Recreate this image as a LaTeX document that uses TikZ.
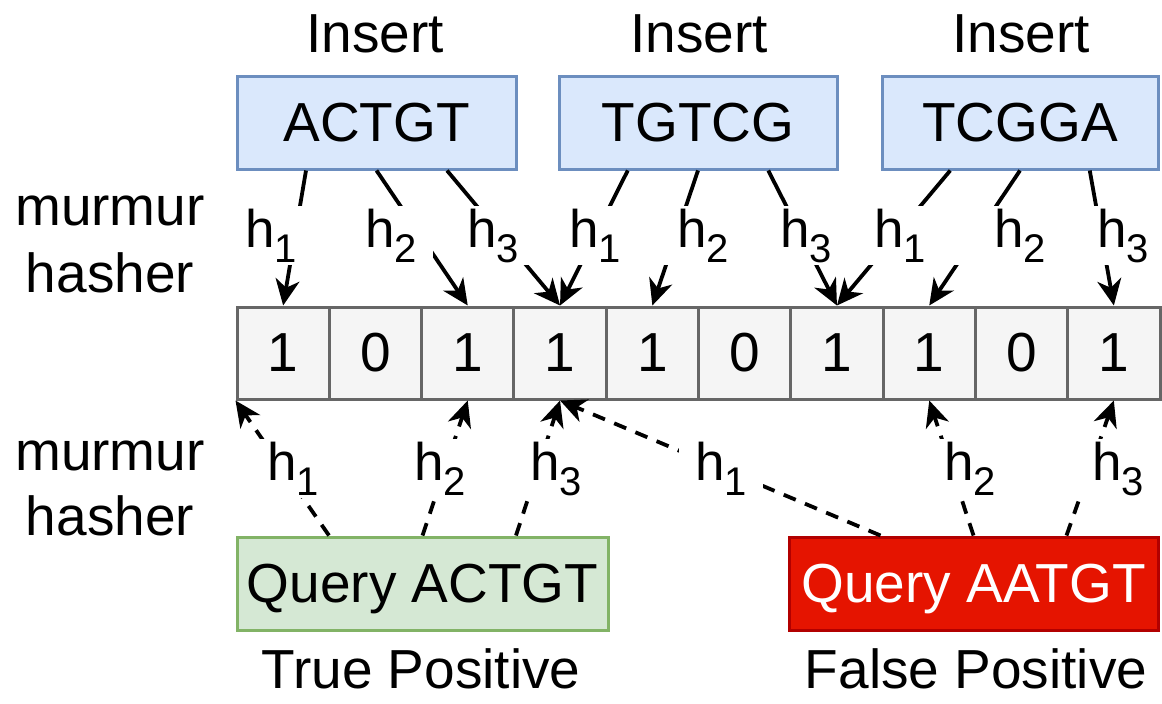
\documentclass[tikz,border=0pt]{standalone}
\usepackage{fontspec}
\setmainfont{Liberation Sans}
\usetikzlibrary{arrows.meta,calc}

\definecolor{insfill}{HTML}{DAE8FC}
\definecolor{insdraw}{HTML}{6C8EBF}
\definecolor{bitfill}{HTML}{F5F5F5}
\definecolor{bitdraw}{HTML}{666666}
\definecolor{tpfill}{HTML}{D5E8D4}
\definecolor{tpdraw}{HTML}{82B366}
\definecolor{fpfill}{HTML}{E51400}
\definecolor{fpdraw}{HTML}{B20000}

% hash function label h_i
\newcommand{\hsub}[1]{h\raisebox{-15pt}{\fontsize{40}{40}\selectfont #1}}

\begin{document}
\begin{tikzpicture}[x=1pt,y=-1pt,
  every node/.style={font=\fontsize{55}{66}\selectfont, inner sep=0pt},
  plain/.style={anchor=base},
  insbox/.style={draw=insdraw, fill=insfill, line width=3pt, minimum height=93pt},
  bitcell/.style={draw=bitdraw, fill=bitfill, line width=3pt, minimum width=92.3pt, minimum height=92pt},
  tpbox/.style={draw=tpdraw, fill=tpfill, line width=3pt, minimum width=371pt, minimum height=93pt, text depth=0pt},
  fpbox/.style={draw=fpdraw, fill=fpfill, text=white, line width=3pt, minimum width=369pt, minimum height=93pt, text depth=0pt},
  hashlabel/.style={fill=white, inner xsep=16pt, inner ysep=3pt, anchor=base west, font=\fontsize{53}{60}\selectfont},
  hasharrow/.style={line width=3.8pt, -{Stealth[length=26pt,width=24pt,inset=8pt]}},
  queryarrow/.style={hasharrow, dash pattern=on 13pt off 10pt}
]
\useasboundingbox (0,0) rectangle (1162,704);
\fill[white] (0,0) rectangle (1162,704);

% inserted k-mers
\node[plain] (t1) at (375,52) {Insert};
\node[plain] (t2) at (699,52) {Insert};
\node[plain] (t3) at (1021,52) {Insert};
\node[insbox, minimum width=279pt] (ins1) at (376.5,122.5) {ACTGT};
\node[insbox, minimum width=278pt] (ins2) at (698,122.5) {TGTCG};
\node[insbox, minimum width=276pt] (ins3) at (1020,122.5) {TCGGA};

% side captions
\node[plain] (m1) at (110,225) {murmur};
\node[plain] (m2) at (110,292) {hasher};
\node[plain] (m3) at (110,470) {murmur};
\node[plain] (m4) at (110,535) {hasher};

% bit array
\foreach \i/\v in {1/1,2/0,3/1,4/1,5/1,6/0,7/1,8/1,9/0,10/1}
  \node[bitcell] (c\i) at ({237+92.3*(\i-0.5)},353) {\v};

% queries
\node[tpbox] (q1) at (422.5,583.5) {Query ACTGT};
\node[fpbox] (q2) at (973.5,583.5) {Query AATGT};
\node[plain] (r1) at (421,688) {True Positive};
\node[plain] (r2) at (976,688) {False Positive};

% connector start points on box edges
\foreach \b in {ins1,ins2,ins3}{
  \coordinate (\b-a) at ($(\b.south west)!0.25!(\b.south east)$);
  \coordinate (\b-b) at ($(\b.south west)!0.5!(\b.south east)$);
  \coordinate (\b-c) at ($(\b.south west)!0.75!(\b.south east)$);
}
\foreach \b in {q1,q2}{
  \coordinate (\b-a) at ($(\b.north west)!0.25!(\b.north east)$);
  \coordinate (\b-b) at ($(\b.north west)!0.5!(\b.north east)$);
  \coordinate (\b-c) at ($(\b.north west)!0.75!(\b.north east)$);
}

% insert hashing
\draw[hasharrow] (ins1-a) -- (c1.north);
\draw[hasharrow] (ins1-b) -- (c3.north);
\draw[hasharrow] (ins1-c) -- (c4.north);
\draw[hasharrow] (ins2-a) -- (c4.north);
\draw[hasharrow] (ins2-b) -- (c5.north);
\draw[hasharrow] (ins2-c) -- (c7.north);
\draw[hasharrow] (ins3-a) -- (c7.north);
\draw[hasharrow] (ins3-b) -- (c8.north);
\draw[hasharrow] (ins3-c) -- (c10.north);

% query hashing
\draw[queryarrow] (q1-a) -- (c1.south west);
\draw[queryarrow] (q1-b) -- (c3.south);
\draw[queryarrow] (q1-c) -- (c4.south);
\draw[queryarrow] (q2-a) -- (c4.south);
\draw[queryarrow] (q2-b) -- (c8.south);
\draw[queryarrow] (q2-c) -- (c10.south);

% hash labels (white backing interrupts the connectors)
\node[hashlabel] (ha1) at (229,247) {\hsub{1}};
\node[hashlabel] (ha2) at (349,247) {\hsub{2}};
\node[hashlabel] (ha3) at (451,247) {\hsub{3}};
\node[hashlabel] (hb1) at (553,247) {\hsub{1}};
\node[hashlabel] (hb2) at (661,247) {\hsub{2}};
\node[hashlabel] (hb3) at (764,247) {\hsub{3}};
\node[hashlabel] (hc1) at (858,247) {\hsub{1}};
\node[hashlabel] (hc2) at (952,247) {\hspace*{26pt}\hsub{2}};
\node[hashlabel] (hc3) at (1081,247) {\hsub{3}};
\node[hashlabel] (hq1) at (251,480) {\hsub{1}};
\node[hashlabel] (hq2) at (398,480) {\hsub{2}};
\node[hashlabel] (hq3) at (514,480) {\hsub{3}};
\node[hashlabel] (hr1) at (679,480) {\hsub{1}};
\node[hashlabel] (hr2) at (928,480) {\hsub{2}};
\node[hashlabel] (hr3) at (1076,480) {\hsub{3}};
\end{tikzpicture}
\end{document}
